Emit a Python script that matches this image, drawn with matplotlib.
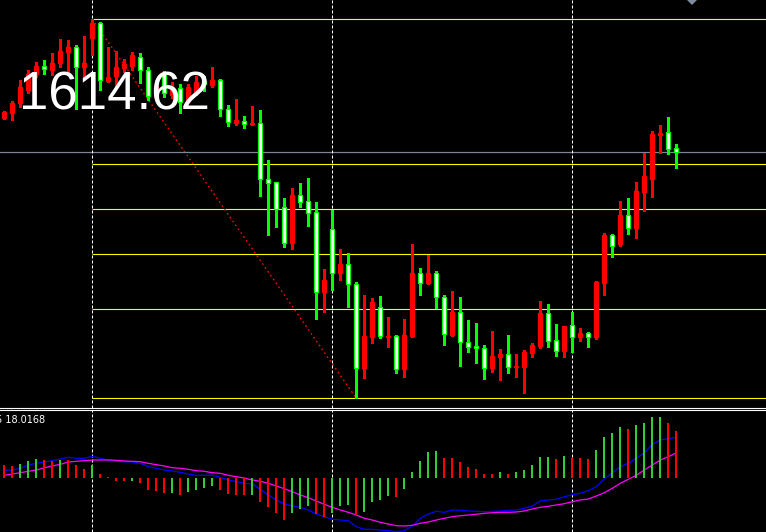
import numpy as np
import matplotlib
matplotlib.use('Agg')
import matplotlib.pyplot as plt

# OHLC, one bar per candle (red = up bar, white/green = down bar)
opens = [1621.40, 1622.46, 1624.34, 1627.00, 1630.30, 1631.80, 1631.00, 1632.34, 1634.66, 1635.54,
         1631.66, 1637.40, 1640.34, 1628.86, 1629.80, 1631.50, 1631.80, 1633.66, 1631.00, 1625.60,
         1630.40, 1626.00, 1627.40, 1625.00, 1626.66, 1628.80, 1628.00, 1629.00, 1623.14, 1620.34,
         1620.86, 1620.14, 1620.34, 1609.14, 1608.54, 1603.54, 1596.46, 1605.94, 1604.80, 1602.54,
         1586.66, 1599.14, 1590.34, 1592.14, 1588.14, 1571.34, 1577.66, 1583.54, 1577.66, 1577.80,
         1571.14, 1577.80, 1590.34, 1588.34, 1590.34, 1585.54, 1578.00, 1582.54, 1576.54, 1575.80,
         1575.34, 1571.34, 1573.66, 1574.20, 1571.54, 1571.54, 1574.46, 1575.86, 1582.34, 1577.00,
         1574.86, 1579.94, 1577.66, 1578.34, 1577.66, 1588.46, 1598.00, 1596.20, 1602.00, 1599.46,
         1606.66, 1609.20, 1618.06, 1618.54, 1615.34]
closes = [1622.54, 1624.34, 1627.54, 1630.20, 1631.80, 1631.14, 1632.46, 1634.80, 1635.54, 1631.66,
          1632.46, 1640.40, 1629.00, 1629.66, 1631.60, 1632.30, 1634.00, 1631.00, 1625.80, 1627.80,
          1626.40, 1627.66, 1624.66, 1627.66, 1628.66, 1628.20, 1629.00, 1623.14, 1620.66, 1621.00,
          1620.14, 1620.34, 1609.14, 1608.46, 1603.14, 1596.46, 1606.00, 1604.66, 1602.46, 1586.66,
          1589.00, 1590.34, 1592.20, 1588.14, 1571.34, 1577.80, 1584.60, 1577.80, 1577.86, 1571.14,
          1578.00, 1590.46, 1588.46, 1590.46, 1585.54, 1578.14, 1582.60, 1576.54, 1575.66, 1575.34,
          1571.34, 1573.80, 1574.20, 1571.54, 1571.80, 1574.54, 1576.00, 1582.46, 1576.86, 1574.86,
          1579.80, 1577.66, 1578.40, 1577.66, 1588.60, 1598.00, 1595.90, 1602.00, 1599.46, 1606.80,
          1609.80, 1618.20, 1618.40, 1615.26, 1614.62]
highs = [1622.80, 1624.86, 1629.00, 1631.00, 1632.70, 1633.00, 1634.46, 1637.14, 1637.00, 1636.00,
         1637.80, 1641.14, 1640.66, 1635.66, 1634.80, 1633.20, 1634.66, 1634.34, 1631.60, 1629.00,
         1630.80, 1628.66, 1628.20, 1628.20, 1629.80, 1629.80, 1631.54, 1629.20, 1624.00, 1625.14,
         1621.80, 1623.80, 1623.00, 1613.00, 1608.60, 1605.34, 1607.40, 1608.34, 1609.34, 1604.54,
         1591.20, 1603.00, 1595.20, 1594.34, 1588.54, 1586.00, 1585.34, 1585.80, 1581.54, 1578.00,
         1581.20, 1596.20, 1591.46, 1594.00, 1590.80, 1586.00, 1586.80, 1585.66, 1581.00, 1580.40,
         1576.00, 1578.80, 1575.20, 1578.00, 1574.20, 1575.00, 1576.34, 1584.86, 1584.20, 1580.20,
         1579.80, 1582.66, 1579.40, 1578.66, 1588.80, 1598.40, 1598.20, 1604.80, 1605.46, 1608.66,
         1614.46, 1618.80, 1620.00, 1621.66, 1616.20]
lows = [1621.20, 1621.00, 1623.60, 1626.40, 1629.60, 1630.20, 1630.00, 1631.66, 1630.46, 1623.20,
        1629.00, 1634.00, 1627.00, 1628.60, 1627.80, 1630.60, 1631.00, 1628.46, 1625.00, 1625.00,
        1625.60, 1625.34, 1622.46, 1624.66, 1626.00, 1626.90, 1627.66, 1621.80, 1619.80, 1620.00,
        1619.34, 1620.00, 1605.80, 1598.00, 1599.66, 1595.66, 1595.20, 1603.66, 1599.80, 1581.20,
        1582.66, 1587.00, 1589.00, 1583.66, 1565.34, 1569.34, 1576.34, 1577.34, 1575.66, 1570.34,
        1569.66, 1577.54, 1586.00, 1588.20, 1583.46, 1576.00, 1577.80, 1571.86, 1574.66, 1572.46,
        1569.14, 1570.66, 1569.00, 1570.46, 1569.66, 1566.46, 1573.66, 1575.46, 1575.66, 1573.86,
        1573.66, 1574.66, 1576.80, 1575.54, 1577.20, 1586.00, 1593.66, 1595.86, 1598.20, 1597.46,
        1602.80, 1605.66, 1614.46, 1614.20, 1611.46]

# sub window indicator
hist = [13.7, 12.7, 14.7, 17.7, 19.7, 18.7, 17.7, 18.7, 18.5, 13.7,
        9.7, 13.7, 4.7, 1.0, -2.3, -3.0, -2.5, -5.0, -11.3, -13.0,
        -14.7, -14.3, -17.0, -13.7, -12.0, -10.0, -7.3, -11.3, -15.3, -16.3,
        -17.0, -16.3, -24.0, -29.0, -34.7, -42.0, -34.7, -30.3, -27.3, -35.3,
        -38.7, -34.7, -28.0, -26.3, -36.3, -34.0, -24.0, -21.3, -17.3, -18.3,
        -10.3, 6.7, 17.0, 26.0, 27.0, 20.7, 20.3, 16.0, 11.7, 9.7,
        4.7, 4.5, 6.0, 4.7, 6.0, 8.7, 13.0, 21.0, 21.3, 19.0,
        22.0, 20.7, 20.3, 19.7, 28.0, 41.0, 45.0, 51.0, 49.7, 53.0,
        55.0, 61.0, 61.3, 55.0, 47.0]
main_line = [8.0, 8.3, 10.0, 13.3, 15.0, 16.3, 17.6, 19.3, 21.0, 20.0,
             20.0, 22.0, 20.0, 18.3, 17.0, 16.6, 16.3, 15.0, 11.6, 10.0,
             8.3, 7.3, 6.0, 4.3, 3.0, 3.0, 3.0, 1.0, -1.7, -3.4,
             -5.0, -5.7, -11.0, -16.7, -21.7, -25.7, -27.7, -29.0, -31.7, -35.7,
             -38.4, -41.0, -41.7, -42.4, -48.4, -51.0, -51.0, -51.7, -52.4, -53.4,
             -52.4, -47.7, -40.0, -35.7, -33.0, -34.0, -31.7, -32.0, -32.7, -33.0,
             -33.4, -33.0, -32.7, -32.0, -31.7, -30.0, -27.7, -22.7, -21.7, -21.0,
             -18.4, -16.4, -15.0, -12.4, -8.4, -0.7, 5.6, 11.6, 15.0, 20.0,
             25.6, 34.0, 38.3, 39.6, 41.0]
signal_line = [3.0, 4.3, 5.6, 7.0, 8.3, 10.6, 12.3, 14.0, 16.3, 17.0,
               17.6, 18.3, 18.3, 18.3, 18.0, 17.3, 17.0, 16.6, 15.0, 13.6,
               12.3, 10.6, 10.0, 9.0, 7.6, 7.0, 5.6, 5.0, 3.0, 1.6,
               0.3, -1.7, -3.0, -5.0, -7.7, -10.4, -13.4, -16.7, -19.4, -22.7,
               -26.0, -29.0, -31.7, -34.0, -36.7, -40.0, -41.7, -44.0, -45.7, -47.4,
               -47.7, -47.0, -45.0, -43.7, -41.7, -40.0, -38.4, -37.4, -36.7, -36.0,
               -35.0, -34.4, -34.0, -34.0, -33.7, -32.7, -30.7, -29.0, -28.0, -26.7,
               -25.4, -23.4, -21.7, -20.7, -17.7, -14.4, -10.0, -5.0, -1.0, 3.0,
               8.3, 13.3, 18.3, 21.6, 25.6]

fib_ratios = [0.0, 0.236, 0.382, 0.5, 0.618, 1.0]
grid_bars = [11, 41, 71]
swing_hi_bar, swing_lo_bar = 11, 44
marker_bar, marker_price = 86, 1645.0
ind_label = '5 18.0168'

W, H = 766, 532
fig = plt.figure(figsize=(W / 100, H / 100), dpi=100, facecolor='black')
ax = fig.add_axes([0, 1 - 408 / H, 1, 408 / H], facecolor='black')
ax2 = fig.add_axes([0, 0, 1, 122 / H], facecolor='black')

o, c = np.array(opens), np.array(closes)
hi, lo = np.array(highs), np.array(lows)
x = np.arange(len(o))
up = c >= o
xlim = (-4.3 / 8, (W - 4.3) / 8)

# candles
wick_col = np.where(up, '#ff0000', '#00ff00')
ax.vlines(x, lo, hi, colors=wick_col, lw=0.8, zorder=2, antialiased=False)
ax.bar(x, np.abs(c - o), bottom=np.minimum(o, c), width=0.5,
       color=np.where(up, '#ff0000', '#ffffff'), edgecolor=wick_col, linewidth=0.9, zorder=3)

# fibonacci retracement
top, bot = hi.max(), lo.min()
levels = [bot + r * (top - bot) for r in fib_ratios]
ax.hlines(levels, swing_hi_bar, xlim[1], colors='#ffff00', lw=0.8, zorder=1)
ax.plot([swing_hi_bar, swing_lo_bar], [hi[swing_hi_bar], lo[swing_lo_bar]],
        color='#ff0000', ls=(0, (1.2, 2.2)), lw=1.0, zorder=1)

# bid line
ax.axhline(c[-1], color='#7b8796', lw=0.9, zorder=1)
ax.plot(marker_bar, marker_price, marker='D', ms=5.5, color='#7f8ca0', mew=0, zorder=4)

for b in grid_bars:
    ax.axvline(b, color='white', lw=0.75, ls=(0, (2.9, 1.9)), zorder=1)
    ax2.axvline(b, color='white', lw=0.75, ls=(0, (2.9, 1.9)), zorder=1)

ax.set_xlim(*xlim)
ax.set_ylim(1645 - 408 / 5, 1645)

# indicator window
h = np.array(hist)
rising = np.r_[False, np.diff(h) > 0]
ax2.plot(x, main_line, color='#0000ff', lw=0.9, zorder=2)
ax2.plot(x, signal_line, color='#ff00ff', lw=0.9, zorder=2)
ax2.vlines(x, 0, h, colors=np.where(rising, '#32cd32', '#ff0000'), lw=1.1, zorder=3,
           antialiased=False)
ax2.set_xlim(*xlim)
ax2.set_ylim(-53.7, 68.3)

for a in (ax, ax2):
    a.set_xticks([])
    a.set_yticks([])
    for s in a.spines.values():
        s.set_visible(False)
ax.spines['bottom'].set_visible(True)
ax.spines['bottom'].set_color('white')
ax2.spines['top'].set_visible(True)
ax2.spines['top'].set_color('white')

fig.text(19 / W, 1 - 110 / H, '%.2f' % c[-1], color='white', fontsize=38,
         family=['Liberation Sans', 'DejaVu Sans'], va='baseline')
fig.text(-4 / W, 1 - 423 / H, ind_label, color='white', fontsize=7, va='baseline')

fig.savefig('out.png', dpi=100, facecolor='black')
